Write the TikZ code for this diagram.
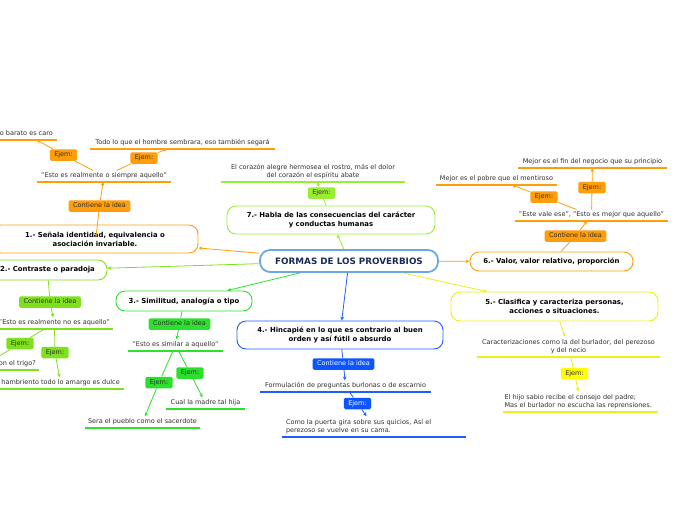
\documentclass[tikz,border=0pt]{standalone}
\usepackage{fontspec}
\setmainfont{DejaVu Sans}
\usetikzlibrary{arrows.meta,calc}
\definecolor{cOr}{HTML}{FF9D0A}
\definecolor{cLi}{HTML}{7FE01E}
\definecolor{cGr}{HTML}{2EE02E}
\definecolor{cLl}{HTML}{99EE33}
\definecolor{cBl}{HTML}{1F5EFF}
\definecolor{cBf}{HTML}{0D55FF}
\definecolor{cYe}{HTML}{EEEE1A}
\definecolor{cYf}{HTML}{FFFF00}
\definecolor{cCe}{HTML}{6FA8DC}
\definecolor{cNavy}{HTML}{1B2A57}
\definecolor{tGray}{HTML}{2E2E2E}
\newcommand\fsz{\fontsize{6.5}{8.8}\selectfont}
\newcommand\fbz{\fontsize{6.9}{9}\selectfont\bfseries}
\begin{document}
\begin{tikzpicture}[x=1pt,y=-1pt,
  topic/.style={draw, rounded corners=9pt, fill=white, line width=0.9pt, font=\fbz, align=center, inner sep=0pt, text=black},
  central/.style={draw=cCe, rounded corners=10pt, fill=white, line width=1.8pt, font=\fontsize{8.8}{10}\selectfont\bfseries, text=cNavy, inner sep=0pt, minimum width=178pt, minimum height=22pt},
  lbl/.style={rounded corners=1.5pt, font=\fsz, inner xsep=4.5pt, inner ysep=0pt, minimum height=11.5pt, text height=4.7pt, text depth=1.3pt, text=tGray},
  sub/.style={font=\fsz, inner xsep=0pt, inner ysep=2.5pt, anchor=south, text=tGray, text height=4.8pt, text depth=1.4pt},
  subm/.style={font=\fsz, inner xsep=0pt, inner ysep=2.5pt, anchor=south, text=tGray},
  conn/.style={line width=0.8pt},
  arr/.style={conn, -{Stealth[length=4pt,width=3.6pt]}},
  ul/.style={line width=1.2pt}
]
\useasboundingbox (0,0) rectangle (696,520);
\clip (0,0) rectangle (696,520);

% central
\node[central] (C) at (349,261) {FORMAS DE LOS PROVERBIOS};

% topics
\node[topic, draw=cOr, minimum width=206pt, minimum height=28pt] (n1) at (95,239) {1.- Señala identidad, equivalencia o\\asociación invariable.};
\node[topic, draw=cLi, minimum width=119pt, minimum height=20pt] (n2) at (47.5,270) {2.- Contraste o paradoja};
\node[topic, draw=cGr, minimum width=136pt, minimum height=20pt] (n3) at (184,301) {3.- Similitud, analogía o tipo};
\node[topic, draw=cBl, minimum width=206pt, minimum height=28pt] (n4) at (340,335) {4.- Hincapié en lo que es contrario al buen\\orden y así fútil o absurdo};
\node[topic, draw=cYe, minimum width=207pt, minimum height=29pt] (n5) at (554.5,306.5) {5.- Clasifica y caracteriza personas,\\acciones o situaciones.};
\node[topic, draw=cOr, minimum width=163pt, minimum height=19pt] (n6) at (551.5,261.5) {6.- Valor, valor relativo, proporción};
\node[topic, draw=cLl, minimum width=208pt, minimum height=28pt] (n7) at (331,220) {7.- Habla de las consecuencias del carácter\\y conductas humanas};

% label boxes
\node[lbl, fill=cOr] (c1) at (99.5,206) {Contiene la idea};
\node[lbl, fill=cOr] (e1a) at (63.5,155) {Ejem:};
\node[lbl, fill=cOr] (e1b) at (144,158) {Ejem:};
\node[lbl, fill=cLi] (c2) at (50,302) {Contiene la idea};
\node[lbl, fill=cLi] (e2a) at (20,343.5) {Ejem:};
\node[lbl, fill=cLi] (e2b) at (55,352.5) {Ejem:};
\node[lbl, fill=cGr] (c3) at (179.5,324) {Contiene la idea};
\node[lbl, fill=cGr] (e3a) at (159,382.5) {Ejem:};
\node[lbl, fill=cGr] (e3b) at (190,373) {Ejem:};
\node[lbl, fill=cBf, text=white] (c4) at (343.5,364) {Contiene la idea};
\node[lbl, fill=cBf, text=white] (e4) at (357.5,403.5) {Ejem:};
\node[lbl, fill=cYf] (e5) at (574.5,373.5) {Ejem:};
\node[lbl, fill=cOr] (c6) at (575.5,236) {Contiene la idea};
\node[lbl, fill=cOr] (e6a) at (544,197) {Ejem:};
\node[lbl, fill=cOr] (e6b) at (592,187.5) {Ejem:};
\node[lbl, fill=cLl] (e7) at (321.5,193) {Ejem:};

% sub texts
\node[sub, minimum width=134pt] (s1) at (104,182) {"Esto es realmente o siempre aquello"};
\node[sub, anchor=south east, inner xsep=4pt] (s1a) at (57,140) {o barato es caro};
\node[sub, minimum width=185pt] (s1b) at (182.5,149) {Todo lo que el hombre sembrara, eso también segará};
\node[sub, anchor=south east, inner xsep=3pt] (s2) at (113,329) {"Esto es realmente no es aquello"};
\node[sub, anchor=south east, inner xsep=3pt, text width=100pt, align=right] (s2a) at (39,370) {on el trigo?};
\node[sub, anchor=south east, inner xsep=4pt] (s2b) at (124,389) {hambriento todo lo amargo es dulce};
\node[sub, minimum width=95pt] (s3) at (175.5,351) {"Esto es similar a aquello"};
\node[sub, minimum width=79pt] (s3a) at (205.5,409) {Cual la madre tal hija};
\node[sub, minimum width=115pt] (s3b) at (142.5,428) {Sera el pueblo como el sacerdote};
\node[sub, minimum width=171pt] (s4) at (345.5,392) {Formulación de preguntas burlonas o de escarnio};
\node[subm, text width=176pt, inner xsep=4pt, align=left] (s4a) at (374,437) {Como la puerta gira sobre sus quicios, Así el\\perezoso se vuelve en su cama.};
\node[subm, minimum width=183pt, align=center] (s5) at (568.5,357) {Caracterizaciones como la del burlador, del perezoso\\y del necio};
\node[subm, text width=152pt, inner xsep=1.5pt, align=left] (s5a) at (580.5,412) {El hijo sabio recibe el consejo del padre;\\Mas el burlador no escucha las reprensiones.};
\node[sub, minimum width=153pt] (s6) at (591.5,221) {"Este vale ese", "Esto es mejor que aquello"};
\node[sub, minimum width=121pt] (s6a) at (496.5,185) {Mejor es el pobre que el mentiroso};
\node[sub, minimum width=149pt] (s6b) at (592.5,168) {Mejor es el fin del negocio que su principio};
\node[subm, minimum width=184pt, align=center] (s7) at (313,182) {El corazón alegre hermosea el rostro, más el dolor\\del corazón el espíritu abate};

% underlines
\foreach \n/\c in {s1/cOr,s1a/cOr,s1b/cOr,s2/cLi,s2a/cLi,s2b/cLi,s3/cGr,s3a/cGr,s3b/cGr,s4/cBl,s4a/cBl,s5/cYe,s5a/cYe,s6/cOr,s6a/cOr,s6b/cOr,s7/cLl}
  \draw[ul, \c] (\n.south west) -- (\n.south east);

% main connectors
\draw[arr, cOr] (C) -- (n1);
\draw[arr, cLi] (C) -- (n2);
\draw[arr, cGr] (C) -- (n3);
\draw[arr, cBl] (C) -- (n4);
\draw[arr, cYe] (C) -- (n5);
\draw[arr, cOr] (C) -- (n6);
\draw[arr, cLl] (C) -- (n7);

% branch 1
\draw[conn, cOr] (c1) -- ($(n1.center)+(1,-2)$);
\draw[arr, cOr] (c1) -- (s1);
\draw[conn, cOr] (s1) -- (e1a);
\draw[arr, cOr] (e1a) -- (s1a);
\draw[conn, cOr] (s1) -- (e1b);
\draw[arr, cOr] (e1b) -- (s1b);
% branch 2
\draw[conn, cLi] (n2) -- (c2);
\draw[arr, cLi] (c2) -- (s2);
\draw[conn, cLi] (s2) -- (e2a);
\draw[arr, cLi] (e2a) -- (s2a);
\draw[conn, cLi] (s2) -- (e2b);
\draw[arr, cLi] (e2b) -- (s2b);
% branch 3
\draw[conn, cGr] (n3) -- (c3);
\draw[arr, cGr] (c3) -- (s3);
\draw[conn, cGr] (s3) -- (e3a);
\draw[arr, cGr] (e3a) -- (s3b);
\draw[conn, cGr] (s3) -- (e3b);
\draw[arr, cGr] (e3b) -- (s3a);
% branch 4
\draw[conn, cBl] (n4) -- (c4);
\draw[arr, cBl] (c4) -- (s4);
\draw[conn, cBl] (s4) -- (e4);
\draw[arr, cBl] (e4) -- (s4a);
% branch 5
\draw[arr, cYe] (n5) -- (s5);
\draw[conn, cYe] (s5) -- (e5);
\draw[arr, cYe] (e5) -- (s5a);
% branch 6
\draw[conn, cOr] (n6) -- (c6);
\draw[arr, cOr] (c6) -- (s6);
\draw[conn, cOr] (s6) -- (e6a);
\draw[arr, cOr] (e6a) -- (s6a);
\draw[conn, cOr] (s6) -- (e6b);
\draw[arr, cOr] (e6b) -- (s6b);
% branch 7
\draw[conn, cLl] (n7) -- (e7);
\draw[arr, cLl] (e7) -- (s7);
\end{tikzpicture}
\end{document}
